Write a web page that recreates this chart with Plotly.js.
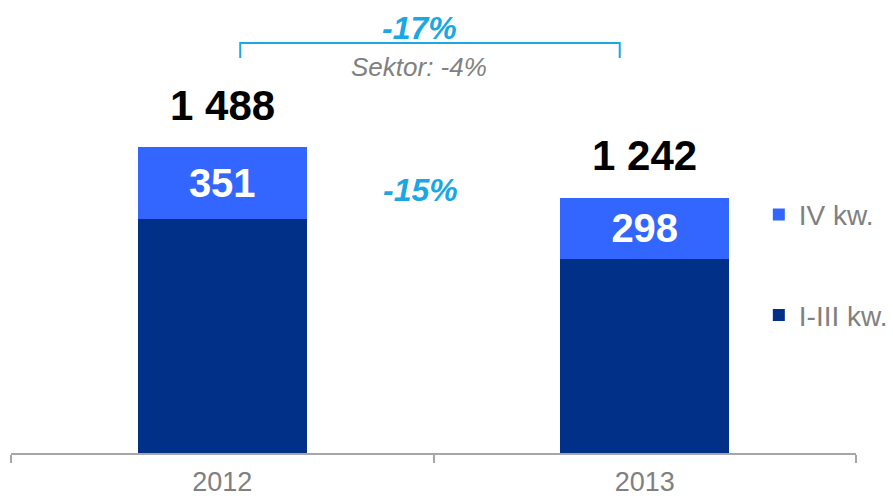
<!DOCTYPE html>
<html>
<head>
<meta charset="utf-8">
<script src="https://cdn.plot.ly/plotly-3.0.1.min.js"></script>
<style>html,body{margin:0;padding:0;background:#fff;}#chart{width:893px;height:499px;}</style>
</head>
<body>
<div id="chart"></div>
<script>
// Data
var years = ['2012', '2013'];
var q1to3 = [1137, 944];     // I-III kw.
var q4 = [351, 298];         // IV kw.
var totals = [1488, 1242];
var seriesNames = ['I-III kw.', 'IV kw.'];
var changeTotal = '-17%';
var changeQ4 = '-15%';
var sectorText = 'Sektor: -4%';

function fmt(n) { return String(n).replace(/\B(?=(\d{3})+(?!\d))/g, ' '); }

var FONT = 'Liberation Sans, Arial, sans-serif';
var cyan = '#1aa7e4';

var traces = [
  {
    type: 'bar', name: seriesNames[0], x: years, y: q1to3,
    marker: {color: '#003087'}, legendrank: 2, legendgroup: 'q13',
    hoverinfo: 'skip'
  },
  {
    type: 'bar', name: seriesNames[1], x: years, y: q4,
    marker: {color: '#3366ff'}, legendrank: 1, legendgroup: 'q4',
    text: q4.map(fmt), textposition: 'inside', insidetextanchor: 'middle',
    constraintext: 'none',
    textfont: {family: FONT, size: 40, color: '#ffffff'},
    texttemplate: '<b>%{text}</b>',
    hoverinfo: 'skip'
  }
];

var annotations = years.map(function (yr, i) {
  return {
    x: i, y: totals[i], xref: 'x', yref: 'y',
    text: '<b>' + fmt(totals[i]) + '</b>', showarrow: false, xanchor: 'center', yanchor: 'middle', yshift: 42,
    font: {family: FONT, size: 42, color: '#000000'}
  };
});
annotations.push({
  x: 0.5, xref: 'x', xshift: -14, y: 0.938, yref: 'paper', yanchor: 'middle', text: '<b><i>' + changeTotal + '</i></b>',
  showarrow: false, font: {family: FONT, size: 32, color: cyan}
});
annotations.push({
  x: 0.5, xref: 'x', xshift: -15, y: 0.852, yref: 'paper', yanchor: 'middle', text: '<i>' + sectorText + '</i>',
  showarrow: false, font: {family: FONT, size: 26, color: '#808080'}
});
annotations.push({
  x: 0.5, xref: 'x', xshift: -13, y: 0.581, yref: 'paper', yanchor: 'middle', text: '<b><i>' + changeQ4 + '</i></b>',
  showarrow: false, font: {family: FONT, size: 32, color: cyan}
});

var layout = {
  width: 893, height: 499,
  margin: {l: 11, r: 28, t: 0, b: 46},
  paper_bgcolor: '#ffffff', plot_bgcolor: '#ffffff',
  barmode: 'stack', bargap: 0.6,
  showlegend: true,
  legend: {
    x: 0.885, xanchor: 'left', y: 0.581, yanchor: 'top',
    traceorder: 'grouped', tracegroupgap: 61,
    font: {family: FONT, size: 28, color: '#808080'},
    bgcolor: 'rgba(0,0,0,0)'
  },
  xaxis: {
    type: 'category', range: [-0.5, 1.5],
    showline: true, linecolor: '#a6a6a6', linewidth: 2,
    ticks: 'outside', tickson: 'boundaries', ticklen: 8, tickwidth: 2, tickcolor: '#a6a6a6',
    ticklabelstandoff: 4,
    tickfont: {family: FONT, size: 27, color: '#808080'},
    showgrid: false, zeroline: false, fixedrange: true
  },
  yaxis: {
    range: [0, 2203], visible: false, showgrid: false, zeroline: false, fixedrange: true
  },
  shapes: [{
    type: 'path', xref: 'paper', yref: 'paper',
    path: 'M0.2713,0.872 L0.2713,0.905 L0.7204,0.905 L0.7204,0.872',
    line: {color: cyan, width: 2}
  }],
  annotations: annotations,
  hovermode: false
};

Plotly.newPlot('chart', traces, layout, {displayModeBar: false, staticPlot: true});
</script>
</body>
</html>
